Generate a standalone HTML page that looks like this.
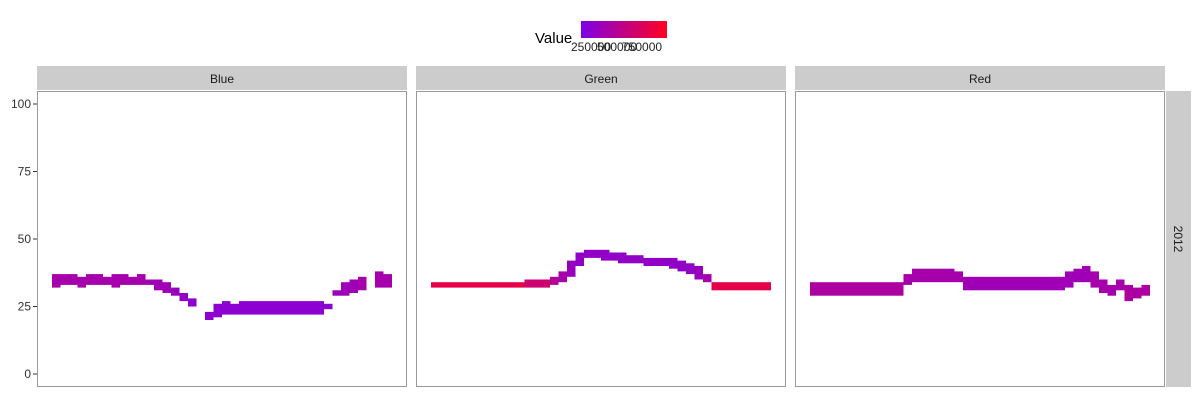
<!DOCTYPE html>
<html><head><meta charset="utf-8"><style>
body{margin:0;background:#fff;font-family:"Liberation Sans",sans-serif}
</style></head><body>
<svg id="c" width="1200" height="400" xmlns="http://www.w3.org/2000/svg" font-family="Liberation Sans, sans-serif">
<defs><linearGradient id="lg" x1="0" x2="1" y1="0" y2="0"><stop offset="0" stop-color="#7f00e6"/><stop offset="1" stop-color="#ff0020"/></linearGradient></defs>
<g>
<text x="535" y="43" font-size="15" fill="#000">Value</text>
<rect x="581" y="21" width="86" height="17" fill="url(#lg)"/>
<text x="571" y="51" font-size="12" fill="#222">250000</text>
<text x="597" y="51" font-size="12" fill="#222">500000</text>
<text x="622" y="51" font-size="12" fill="#222">750000</text>
</g>
<g id="plot"></g>
</svg>
<script>
const panels=["Blue","Green","Red"];
const yTicks=[0,25,50,75,100];
const blueLo=[32,33,33,32,33,33,33,32,33,33,33,33,31,30,29,27,25,null,20,21,22,22,22,22,22,22,22,22,22,22,22,22,24,29,29,30,31,null,32,32];
const blueHi=[37,37,37,36,37,37,36,37,37,36,37,35,35,34,32,30,28,null,23,26,27,26,27,27,27,27,27,27,27,27,27,27,26,31,34,35,36,null,38,37];
const blueInt=[0.3,0.3,0.3,0.3,0.3,0.3,0.3,0.3,0.3,0.3,0.3,0.25,0.25,0.25,0.2,0.15,0.1,0,0.1,0.1,0.1,0.1,0.1,0.1,0.1,0.1,0.1,0.1,0.1,0.1,0.1,0.1,0.1,0.2,0.25,0.25,0.3,0,0.3,0.3];
const greenLo=[32,32,32,32,32,32,32,32,32,32,32,32,32,32,33,34,36,40,43,43,42,42,41,41,41,40,40,40,39,38,37,35,34,31,31,31,31,31,31,31];
const greenHi=[34,34,34,34,34,34,34,34,34,34,34,35,35,35,36,38,42,45,46,46,46,45,45,44,44,43,43,43,43,42,41,40,37,34,34,34,34,34,34,34];
const greenInt=[0.8,0.8,0.8,0.8,0.8,0.8,0.8,0.8,0.8,0.8,0.8,0.6,0.6,0.6,0.4,0.3,0.2,0.15,0.15,0.15,0.15,0.15,0.15,0.15,0.15,0.15,0.15,0.15,0.15,0.15,0.15,0.2,0.3,0.8,0.8,0.8,0.8,0.8,0.8,0.8];
const redLo=[29,29,29,29,29,29,29,29,29,29,29,33,34,34,34,34,34,34,31,31,31,31,31,31,31,31,31,31,31,31,32,34,34,32,30,29,31,27,28,29];
const redHi=[34,34,34,34,34,34,34,34,34,34,34,37,39,39,39,39,39,38,36,36,36,36,36,36,36,36,36,36,36,36,38,39,40,38,35,33,35,33,32,33];
const redInt=[0.35,0.35,0.35,0.35,0.35,0.35,0.35,0.35,0.35,0.35,0.35,0.3,0.3,0.3,0.3,0.3,0.3,0.3,0.25,0.25,0.25,0.25,0.25,0.25,0.25,0.25,0.25,0.25,0.25,0.25,0.25,0.25,0.25,0.3,0.3,0.3,0.3,0.35,0.35,0.35];
const series=[[blueLo,blueHi,blueInt],[greenLo,greenHi,greenInt],[redLo,redHi,redInt]];
const NS="http://www.w3.org/2000/svg",plotG=document.getElementById('plot');
const px=[37,416,795],pw=370,pTop=91,pBot=387;
const yS=v=>374-v*2.7;
const col=t=>`rgb(${Math.round(127+128*t)},0,${Math.round(230-198*t)})`;
function mk(t,a){const e=document.createElementNS(NS,t);for(const k in a)e.setAttribute(k,a[k]);plotG.appendChild(e);return e;}
panels.forEach((p,i)=>{
 let s=mk('rect',{x:px[i],y:66,width:pw,height:24,fill:'#cccccc'});
 
 
 let t=mk('text',{x:px[i]+pw/2,y:83,'font-size':12,'text-anchor':'middle',fill:'#1a1a1a'});t.textContent=p;
 
 
 let r=mk('rect',{x:px[i]+0.5,y:pTop+0.5,width:pw-1,height:pBot-pTop-1,fill:'#fff',stroke:'#999'});
 
 
 const [lo,hi,it]=series[i];const n=lo.length,x0=px[i]+15,step=(pw-30)/n;
 for(let k=0;k<n;k++){ if(lo[k]==null)continue;
  let b=mk('rect',{x:x0+k*step,y:yS(hi[k]),width:step,height:yS(lo[k])-yS(hi[k]),fill:col(it[k])});
  
  
 }
});
let rs=mk('rect',{x:1166,y:91,width:25,height:296,fill:'#cccccc'});


let rt=mk('text',{x:1174,y:239,'font-size':12,'text-anchor':'middle',fill:'#1a1a1a',transform:'rotate(90 1174 239)'});rt.textContent='2012';


yTicks.forEach(v=>{
 let l=mk('line',{x1:33,x2:37,y1:yS(v),y2:yS(v),stroke:'#333'});
 
 
 let t=mk('text',{x:31,y:yS(v)+4,'font-size':12,'text-anchor':'end',fill:'#333'});t.textContent=v;
 
 
});
</script>
</body></html>
